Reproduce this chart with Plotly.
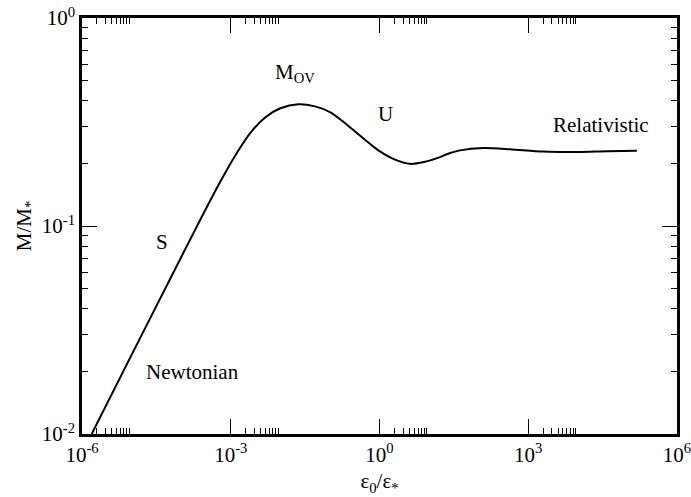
import math
import plotly.graph_objects as go

# Data (epsilon_0/epsilon_*, M/M_*)
eps_ratio = [1.57e-6, 1e-5, 1e-4, 1.78e-4, 3.16e-4, 6.3e-4, 1.26e-3, 2.51e-3, 5.01e-3,
             1e-2, 2.3e-2, 5.0e-2, 0.1, 0.2, 0.355, 0.63, 1.0, 2.0, 4.1, 7.9, 14.5,
             25, 42, 123, 427, 2000, 1e4, 4e4, 1.55e5]
mass_ratio = [0.0100, 0.0240, 0.0708, 0.0927, 0.121, 0.165, 0.220, 0.281, 0.333,
              0.368, 0.385, 0.376, 0.353, 0.313, 0.279, 0.249, 0.229, 0.209, 0.199,
              0.203, 0.212, 0.223, 0.231, 0.237, 0.234, 0.228, 0.227, 0.229, 0.230]

x_major = [1e-6, 1e-3, 1e0, 1e3, 1e6]
x_major_text = ["10<sup>-6</sup>", "10<sup>-3</sup>", "10<sup>0</sup>", "10<sup>3</sup>", "10<sup>6</sup>"]
y_major = [1e-2, 1e-1, 1e0]
y_major_text = ["10<sup>-2</sup>", "10<sup>-1</sup>", "10<sup>0</sup>"]
x_minor = [m * b for b in [1e-6, 1e-3, 1e0, 1e3] for m in range(2, 10)]
y_minor = [m * b for b in [1e-2, 1e-1] for m in range(2, 10)]

labels = ["M<sub>OV</sub>", "U", "Relativistic", "S", "Newtonian"]
label_x = [2.0e-2, 1.35, 2.9e4, 4.1e-5, 1.66e-4]
label_y = [0.543, 0.345, 0.305, 0.084, 0.0198]

FONT = "Liberation Serif"

fig = go.Figure()
fig.add_trace(go.Scatter(x=eps_ratio, y=mass_ratio, mode="lines",
                         line=dict(color="black", width=2, shape="spline", smoothing=0.8),
                         showlegend=False, hoverinfo="skip"))

for t, lx, ly in zip(labels, label_x, label_y):
    fig.add_annotation(x=math.log10(lx), y=math.log10(ly), text=t, showarrow=False,
                       xref="x", yref="y", font=dict(family=FONT, size=21, color="black"))

axis_common = dict(type="log", showgrid=False, zeroline=False, showline=True,
                   linecolor="black", linewidth=2.5, mirror="ticks", ticks="inside",
                   tickcolor="black", tickwidth=1.2, ticklen=15, automargin=False,
                   ticklabeloverflow="allow",
                   tickfont=dict(family=FONT, size=21, color="black"))

fig.update_xaxes(**axis_common, range=[-6, 6], tickmode="array", tickvals=x_major,
                 ticktext=x_major_text,
                 minor=dict(tickmode="array", tickvals=x_minor, ticks="inside", ticklen=6,
                            tickwidth=1, tickcolor="black", showgrid=False),
                 title=dict(text="ε<sub>0</sub>/ε<sub>*</sub>", standoff=8,
                            font=dict(family=FONT, size=21, color="black")))
fig.update_yaxes(**axis_common, range=[-2, 0], tickmode="array", tickvals=y_major,
                 ticktext=y_major_text,
                 minor=dict(tickmode="array", tickvals=y_minor, ticks="inside", ticklen=6,
                            tickwidth=1, tickcolor="black", showgrid=False),
                 title=dict(text="M/M<sub>*</sub>", standoff=5,
                            font=dict(family=FONT, size=21, color="black")))

fig.update_layout(width=691, height=497, margin=dict(l=82, r=14, t=18, b=63),
                  paper_bgcolor="white", plot_bgcolor="white",
                  font=dict(family=FONT, size=21, color="black"))

fig.write_html("out.html")
